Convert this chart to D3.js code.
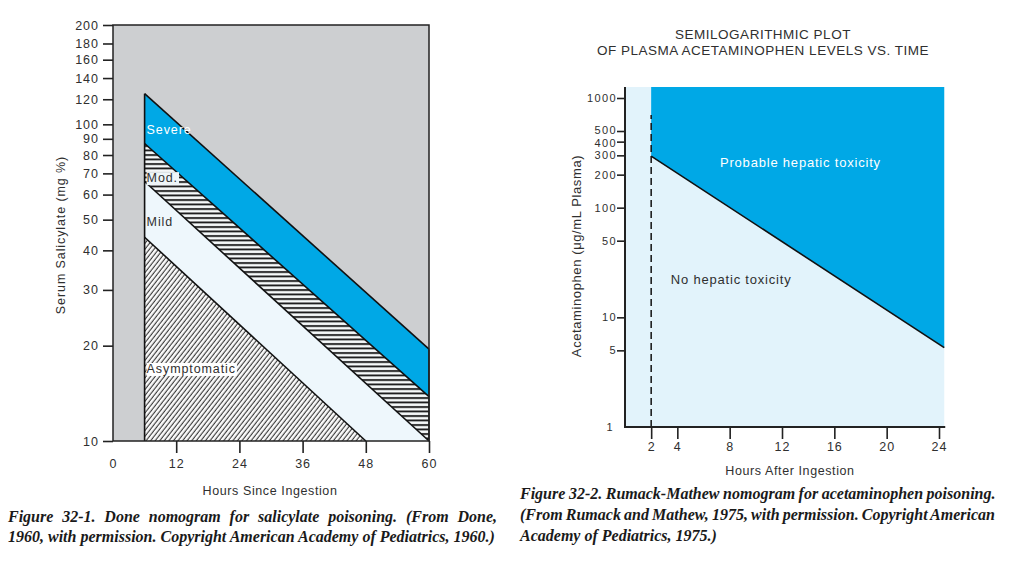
<!DOCTYPE html>
<html><head><meta charset="utf-8">
<script src="https://cdn.jsdelivr.net/npm/d3@7"></script>
<style>
body{margin:0;background:#fff}
svg{display:block}
text{font-family:"Liberation Sans",Arial,Helvetica,sans-serif}
.cap{font-family:"Liberation Serif","Times New Roman",serif;font-weight:bold;font-style:italic}
</style>
</head><body><svg id="c" width="1024" height="561"></svg>
<script>
// ---------- DATA: Done nomogram (salicylate) ----------
const doneHourTicks = [0, 12, 24, 36, 48, 60];
const doneLevelTicks = [10, 20, 30, 40, 50, 60, 70, 80, 90, 100, 120, 140, 160, 180, 200];
const severeTopLine = [[6, 125], [60, 19.5]];
const severeModLine = [[6, 87], [60, 13.8]];
const modMildLine = [[6, 66], [60, 10]];
const mildAsymLine = [[6, 44], [48, 10]];
const zoneNames = ["Severe", "Mod.", "Mild", "Asymptomatic"];
const zoneLabelLevels = [93, 65.7, 47.6, 16.4];

// ---------- DATA: Rumack-Mathew nomogram (acetaminophen) ----------
const rmHourTicks = [2, 4, 8, 12, 16, 20, 24];
const rmLevelTicks = [1, 5, 10, 50, 100, 200, 300, 400, 500, 1000];
const toxicityLine = [[2, 295], [24.4, 5.3]];
const dashedLine2h = [[2, 1], [2, 700]];
const rmTitle = ["SEMILOGARITHMIC PLOT", "OF PLASMA ACETAMINOPHEN LEVELS VS. TIME"];
const rmZoneNames = ["Probable hepatic toxicity", "No hepatic toxicity"];
const rmZoneAnchors = [[7.26, 235], [3.5, 20.1]];

const leftCaption = ["Figure 32-1. Done nomogram for salicylate poisoning. (From Done,",
                     "1960, with permission. Copyright American Academy of Pediatrics, 1960.)"];
const rightCaption = ["Figure 32-2.  Rumack-Mathew nomogram for acetaminophen poisoning.",
                      "(From Rumack and Mathew, 1975, with permission. Copyright American",
                      "Academy of Pediatrics, 1975.)"];

// ---------- COLORS ----------
const GRAY = "#cdcfd1", BLUE = "#00a8e6", PALE = "#eef7fc", PALE2 = "#e2f3fb", INK = "#2f2f2f";
const TICKFONT = 12.5, TICKLS = 1;

const svg = d3.select("#c");
svg.append("rect").attr("width", 1024).attr("height", 561).attr("fill", "#fff");

const defs = svg.append("defs");
const pH = defs.append("pattern").attr("id", "hatchH").attr("patternUnits", "userSpaceOnUse")
  .attr("width", 8).attr("height", 4.5);
pH.append("rect").attr("width", 8).attr("height", 4.5).attr("fill", "#f7fafb");
pH.append("line").attr("x1", 0).attr("x2", 8).attr("y1", 2).attr("y2", 2)
  .attr("stroke", "#111").attr("stroke-width", 1.8);
const pD = defs.append("pattern").attr("id", "hatchD").attr("patternUnits", "userSpaceOnUse")
  .attr("width", 3.6).attr("height", 10).attr("patternTransform", "rotate(38)");
pD.append("rect").attr("width", 3.6).attr("height", 10).attr("fill", "#fbfbfb");
pD.append("line").attr("x1", 1.2).attr("x2", 1.2).attr("y1", 0).attr("y2", 10)
  .attr("stroke", "#222").attr("stroke-width", 1);

function styleTickText(sel) {
  sel.attr("font-size", TICKFONT).attr("fill", INK).attr("letter-spacing", TICKLS)
    .attr("font-family", "'Liberation Sans',Arial,sans-serif");
}

// =============== LEFT CHART ===============
const L = {x0: 113, x1: 429, yBottom: 441, yTopTick: 29, yFrameTop: 25};
const xL = d3.scaleLinear().domain([0, 60]).range([L.x0, L.x1]);
const yL = d3.scaleLog().domain([10, 200]).range([L.yBottom, L.yTopTick]);
const gL = svg.append("g");

gL.append("rect").attr("x", L.x0).attr("y", L.yFrameTop)
  .attr("width", L.x1 - L.x0).attr("height", L.yBottom - L.yFrameTop).attr("fill", GRAY);

const pt = d => [xL(d[0]), yL(d[1])];
const lineGen = d3.line();
const floorV = 10, endH = 60;
gL.append("path").attr("d", lineGen([
  pt(severeTopLine[0]), pt(severeTopLine[1]), pt(severeModLine[1]), pt(severeModLine[0])]) + "Z")
  .attr("fill", BLUE);
gL.append("path").attr("d", lineGen([
  pt(severeModLine[0]), pt(severeModLine[1]), pt(modMildLine[1]), pt(modMildLine[0])]) + "Z")
  .attr("fill", "url(#hatchH)");
gL.append("path").attr("d", lineGen([
  pt(modMildLine[0]), pt(modMildLine[1]), pt(mildAsymLine[1]), pt(mildAsymLine[0])]) + "Z")
  .attr("fill", PALE);
gL.append("path").attr("d", lineGen([
  pt(mildAsymLine[0]), pt(mildAsymLine[1]), [xL(mildAsymLine[0][0]), yL(floorV)]]) + "Z")
  .attr("fill", "url(#hatchD)");

[severeTopLine, severeModLine, modMildLine, mildAsymLine].forEach(l => {
  gL.append("path").attr("d", lineGen(l.map(pt)))
    .attr("stroke", "#111").attr("stroke-width", 1.6).attr("fill", "none");
});
gL.append("line").attr("x1", xL(6)).attr("x2", xL(6))
  .attr("y1", yL(floorV)).attr("y2", yL(severeTopLine[0][1]))
  .attr("stroke", "#111").attr("stroke-width", 1.6);
gL.append("line").attr("x1", xL(endH)).attr("x2", xL(endH))
  .attr("y1", yL(floorV)).attr("y2", yL(severeTopLine[1][1]))
  .attr("stroke", "#111").attr("stroke-width", 1.4);

gL.append("rect").attr("x", L.x0).attr("y", L.yFrameTop)
  .attr("width", L.x1 - L.x0).attr("height", L.yBottom - L.yFrameTop)
  .attr("fill", "none").attr("stroke", "#222").attr("stroke-width", 1.5);

zoneNames.forEach((n, i) => {
  const t = gL.append("text").attr("x", xL(6) + 2).attr("y", yL(zoneLabelLevels[i]))
    .attr("font-size", 12.5).attr("letter-spacing", 0.9)
    .attr("fill", i === 0 ? "#fff" : INK).text(n);
  if (i === 1 || i === 3) {
    const bb = t.node().getBBox();
    gL.insert("rect", () => t.node()).attr("x", bb.x).attr("y", bb.y + 1)
      .attr("width", bb.width + 1).attr("height", bb.height - 1)
      .attr("fill", i === 1 ? "#eef5f8" : "#fff");
  }
});

const axYL = d3.axisLeft(yL).tickValues(doneLevelTicks).tickFormat(d3.format("d"))
  .tickSize(10).tickPadding(4);
const gyl = gL.append("g").attr("transform", `translate(${L.x0},0)`).call(axYL);
gyl.select(".domain").remove();
gyl.selectAll("line").attr("stroke", "#222").attr("stroke-width", 1.6);
styleTickText(gyl.selectAll("text"));
const t200 = gyl.selectAll(".tick").filter(d => d === 200);
t200.select("line").attr("transform", `translate(0,${L.yFrameTop - L.yTopTick})`);
t200.select("text").attr("y", L.yFrameTop - L.yTopTick);

const axXL = d3.axisBottom(xL).tickValues(doneHourTicks).tickSize(12).tickPadding(6);
const gxl = gL.append("g").attr("transform", `translate(0,${L.yBottom})`).call(axXL);
gxl.select(".domain").remove();
gxl.selectAll("line").attr("stroke", "#222").attr("stroke-width", 1.6);
gxl.selectAll(".tick").filter(d => d === 0).select("line").remove();
styleTickText(gxl.selectAll("text"));

gL.append("text").attr("x", (L.x0 + L.x1) / 2 - 1).attr("y", 495).attr("text-anchor", "middle")
  .attr("font-size", 12.5).attr("letter-spacing", 0.6).attr("fill", INK).text("Hours Since Ingestion");
gL.append("text").attr("transform", "translate(65,235) rotate(-90)").attr("text-anchor", "middle")
  .attr("font-size", 12.5).attr("letter-spacing", 0.9).attr("fill", INK).text("Serum Salicylate (mg %)");

// =============== RIGHT CHART ===============
const R = {x0: 625, yBottom: 427, yTop: 87};
const xR = d3.scaleLinear().domain([0, 24]).range([625, 939]);
const yR = d3.scaleLog().domain([1, 1000]).range([427, 98]);
const xEnd = toxicityLine[1][0];
const gR = svg.append("g");

gR.append("rect").attr("x", xR(0)).attr("y", R.yTop)
  .attr("width", xR(xEnd) - xR(0)).attr("height", R.yBottom - R.yTop).attr("fill", PALE2);
gR.append("path").attr("d", lineGen([
  [xR(toxicityLine[0][0]), R.yTop], [xR(xEnd), R.yTop],
  [xR(toxicityLine[1][0]), yR(toxicityLine[1][1])],
  [xR(toxicityLine[0][0]), yR(toxicityLine[0][1])]]) + "Z").attr("fill", BLUE);
gR.append("path").attr("d", lineGen(toxicityLine.map(d => [xR(d[0]), yR(d[1])])))
  .attr("stroke", "#111").attr("stroke-width", 1.6).attr("fill", "none");
gR.append("path").attr("d", lineGen(dashedLine2h.map(d => [xR(d[0]), yR(d[1])])))
  .attr("stroke", "#111").attr("stroke-width", 1.5).attr("stroke-dasharray", "7,4").attr("fill", "none");

const axYR = d3.axisLeft(yR).tickValues(rmLevelTicks).tickFormat(d3.format("d")).tickSize(8).tickPadding(0);
const gyr = gR.append("g").attr("transform", `translate(${R.x0},0)`).call(axYR);
gyr.select(".domain").remove();
gyr.selectAll("line").attr("stroke", "#222").attr("stroke-width", 1.6);
styleTickText(gyr.selectAll("text"));
gyr.selectAll("text").attr("font-size", 11).attr("letter-spacing", 1.4);
gyr.selectAll(".tick").filter(d => d === 500).select("text").attr("y", -1.2);
gyr.selectAll(".tick").filter(d => d === 400).select("text").attr("y", 1);
gyr.selectAll(".tick").filter(d => d === 1).select("line").remove();
gyr.selectAll(".tick").filter(d => d === 1).select("text").attr("x", -11);
gR.append("line").attr("x1", R.x0).attr("x2", R.x0).attr("y1", R.yTop).attr("y2", R.yBottom + 1)
  .attr("stroke", "#222").attr("stroke-width", 2);

const axXR = d3.axisBottom(xR).tickValues(rmHourTicks).tickSize(12).tickPadding(3);
const gxr = gR.append("g").attr("transform", `translate(0,${R.yBottom})`).call(axXR);
gxr.select(".domain").remove();
gxr.selectAll("line").attr("stroke", "#222").attr("stroke-width", 1.6);
styleTickText(gxr.selectAll("text"));
gR.append("line").attr("x1", R.x0 - 1).attr("x2", xR(xEnd) + 1).attr("y1", R.yBottom).attr("y2", R.yBottom)
  .attr("stroke", "#222").attr("stroke-width", 2);

rmZoneNames.forEach((n, i) => {
  gR.append("text").attr("x", xR(rmZoneAnchors[i][0])).attr("y", yR(rmZoneAnchors[i][1]))
    .attr("font-size", 13).attr("letter-spacing", 0.8).attr("fill", i === 0 ? "#fff" : INK).text(n);
});

rmTitle.forEach((t, i) => {
  gR.append("text").attr("x", 763).attr("y", 39 + i * 15.5).attr("text-anchor", "middle")
    .attr("font-size", 13.5).attr("letter-spacing", 0.5).attr("fill", INK).text(t);
});

gR.append("text").attr("x", 790).attr("y", 475).attr("text-anchor", "middle")
  .attr("font-size", 12.5).attr("letter-spacing", 0.6).attr("fill", INK).text("Hours After Ingestion");
gR.append("text").attr("transform", "translate(581,256) rotate(-90)").attr("text-anchor", "middle")
  .attr("font-size", 13).attr("letter-spacing", 0.6).attr("fill", INK).text("Acetaminophen (\u03bcg/mL Plasma)");

// =============== CAPTIONS ===============
function caption(lines, x, y0, lh, width) {
  lines.forEach((s, i) => {
    const t = svg.append("text").attr("class", "cap").attr("x", x).attr("y", y0 + i * lh)
      .attr("font-size", 16).attr("fill", "#1a1a1a").text(s);
    if (i < lines.length - 1) {
      const len = t.node().getComputedTextLength();
      const spaces = (s.match(/ /g) || []).length;
      if (spaces > 0) t.attr("word-spacing", ((width - len) / spaces) + "px");
    }
  });
}
caption(leftCaption, 8, 522, 20, 489);
caption(rightCaption, 520, 499, 21, 475);
</script>
</body></html>
